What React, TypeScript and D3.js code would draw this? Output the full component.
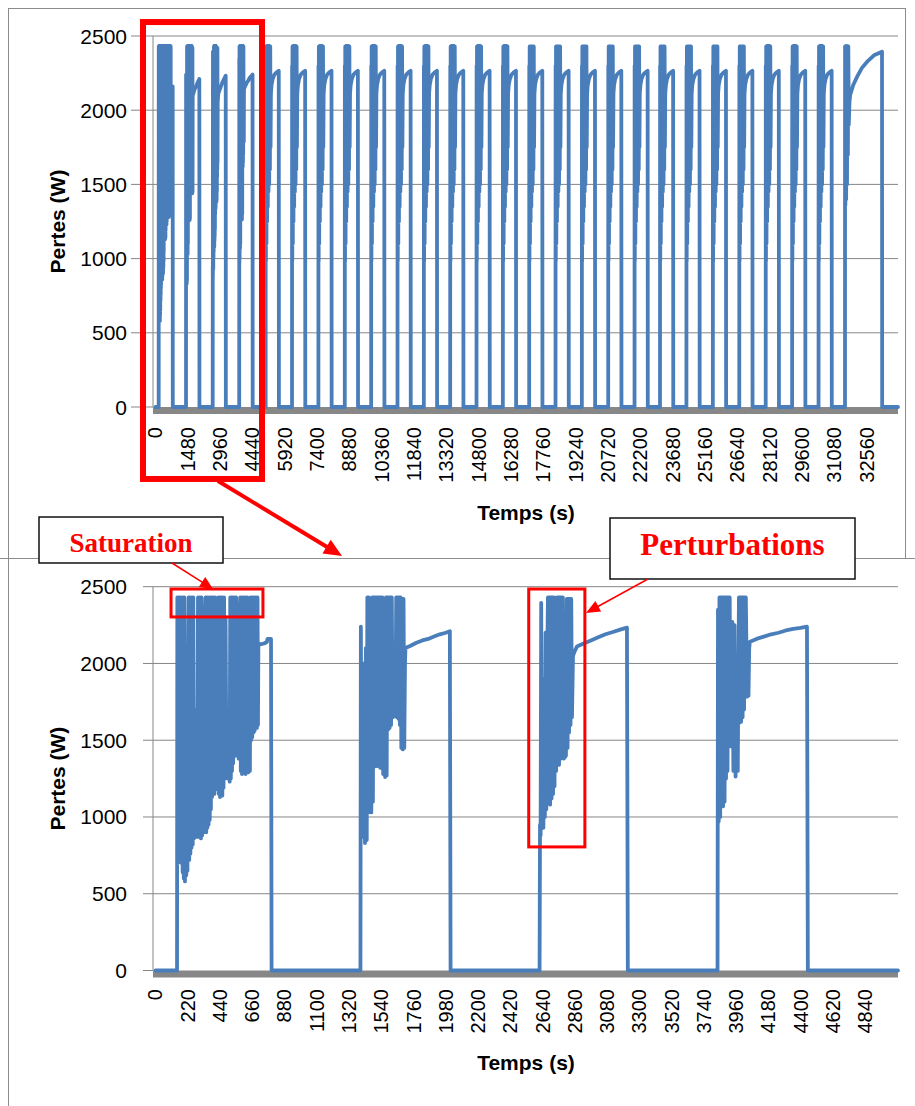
import * as d3 from "d3";

type Pt = [number, number];

const Y_TICKS = [0, 500, 1000, 1500, 2000, 2500];
const FULL_TICKS = [
  0, 1480, 2960, 4440, 5920, 7400, 8880, 10360, 11840, 13320, 14800, 16280, 17760, 19240, 20720,
  22200, 23680, 25160, 26640, 28120, 29600, 31080, 32560,
];
const ZOOM_TICKS = [
  0, 220, 440, 660, 880, 1100, 1320, 1540, 1760, 1980, 2200, 2420, 2640, 2860, 3080, 3300, 3520,
  3740, 3960, 4180, 4400, 4620, 4840,
];

const CYCLE_1: Pt[] = [
  [147, 0], [149, 2430], [153, 700], [157, 2430], [161, 760], [165, 2430], [169, 820], [173, 2430],
  [177, 700], [181, 2430], [185, 640], [189, 2430], [193, 600], [197, 2430], [201, 580], [206, 1950],
  [210, 620], [214, 2000], [218, 650], [222, 1900], [226, 2430], [230, 720], [234, 2430], [238, 760],
  [242, 2430], [246, 800], [250, 2430], [254, 820], [258, 2430], [262, 860], [266, 1700], [272, 880],
  [278, 1650], [284, 870], [290, 2430], [294, 880], [298, 2430], [302, 870], [306, 2430], [310, 860],
  [314, 2430], [318, 880], [324, 2250], [330, 900], [336, 2250], [342, 2430], [346, 900], [350, 2430],
  [354, 930], [358, 2430], [362, 950], [366, 2430], [370, 980], [374, 2430], [378, 1050], [382, 2430],
  [386, 1130], [390, 2430], [394, 1190], [398, 2430], [402, 1150], [406, 2430], [410, 1200], [416, 2250],
  [420, 1180], [424, 2300], [428, 2430], [432, 1150], [436, 2430], [440, 1130], [444, 2430], [448, 1200],
  [452, 2430], [456, 1140], [460, 2430], [464, 1190], [468, 2430], [472, 1250], [478, 2300], [484, 1300],
  [490, 1490], [496, 1250], [502, 1480], [506, 1230], [510, 2430], [514, 1250], [518, 2430], [522, 1300],
  [526, 2430], [530, 1350], [534, 2430], [538, 1420], [542, 2430], [546, 1400], [550, 2430], [556, 1420],
  [562, 2300], [567, 1380], [572, 2300], [578, 2430], [582, 1300], [586, 2430], [590, 1280], [594, 2430],
  [598, 1300], [602, 2430], [606, 1290], [610, 2430], [614, 1280], [618, 2430], [622, 1300], [626, 2430],
  [632, 1290], [638, 2200], [644, 1300], [648, 2430], [652, 1500], [656, 2430], [660, 1520], [664, 2430],
  [668, 1550], [672, 2430], [676, 1560], [680, 2430], [684, 1580], [688, 2430], [692, 1580], [696, 2430],
  [699, 1600], [702, 2130], [720, 2125], [740, 2130], [760, 2140], [764, 2160], [788, 2160], [792, 0],
];

const CYCLE_2: Pt[] = [
  [1398, 0], [1401, 2240], [1406, 940], [1412, 1800], [1417, 870], [1423, 2000], [1429, 830],
  [1435, 2100], [1441, 850], [1445, 2430], [1450, 1030], [1455, 2430], [1460, 1040], [1466, 1940],
  [1472, 1030], [1478, 2430], [1483, 1100], [1488, 2430], [1493, 1350], [1498, 2430], [1503, 1330],
  [1508, 2430], [1513, 1340], [1518, 2430], [1523, 1330], [1528, 2430], [1533, 1320], [1538, 2430],
  [1543, 1330], [1548, 2430], [1553, 1280], [1560, 2300], [1566, 1260], [1572, 2430], [1577, 1270],
  [1582, 2430], [1587, 1570], [1592, 2430], [1597, 1580], [1602, 2430], [1607, 1600], [1612, 2430],
  [1617, 1650], [1637, 1660], [1642, 2430], [1647, 1650], [1652, 2430], [1657, 1640], [1662, 2430],
  [1667, 1600], [1672, 2430], [1677, 1450], [1682, 2420], [1687, 1440], [1692, 2420], [1697, 1450],
  [1702, 2000], [1705, 2100], [1740, 2115], [1780, 2135], [1820, 2150], [1860, 2160], [1900, 2175],
  [1940, 2190], [1980, 2200], [2008, 2210], [2013, 0],
];

const CYCLE_3: Pt[] = [
  [2620, 0], [2623, 950], [2627, 880], [2631, 2395], [2636, 960], [2641, 1500], [2646, 930],
  [2651, 1900], [2656, 1000], [2661, 2200], [2666, 1050], [2672, 2000], [2677, 2430], [2682, 1100],
  [2687, 2430], [2692, 1080], [2697, 2430], [2702, 1120], [2707, 2430], [2712, 1150], [2717, 2430],
  [2722, 1200], [2727, 2400], [2733, 1300], [2738, 2430], [2743, 1350], [2748, 2430], [2753, 1340],
  [2758, 2430], [2763, 1380], [2768, 2430], [2773, 1400], [2779, 2430], [2785, 1380], [2800, 1400],
  [2806, 2420], [2811, 1450], [2816, 2420], [2821, 1550], [2826, 2420], [2831, 1600], [2836, 2420],
  [2841, 1650], [2848, 2050], [2860, 2080], [2875, 2110], [2920, 2130], [2970, 2150], [3020, 2170],
  [3070, 2190], [3120, 2205], [3170, 2220], [3216, 2233], [3222, 0],
];

const CYCLE_4: Pt[] = [
  [3834, 0], [3837, 2350], [3842, 970], [3847, 2430], [3852, 1000], [3857, 2430], [3862, 1068],
  [3867, 2430], [3872, 1070], [3877, 2430], [3882, 1100], [3887, 2430], [3892, 1250], [3897, 2430],
  [3902, 1300], [3907, 2430], [3912, 1460], [3917, 2430], [3922, 1460], [3935, 2270], [3942, 1300],
  [3950, 2250], [3957, 1263], [3965, 2000], [3972, 1300], [3980, 2430], [3985, 1615], [3990, 2430],
  [3995, 1620], [4000, 2430], [4005, 1650], [4010, 2430], [4015, 1700], [4020, 2430], [4027, 2430],
  [4035, 1784], [4045, 1790], [4050, 2100], [4055, 2142], [4100, 2160], [4150, 2175], [4200, 2190],
  [4250, 2200], [4300, 2215], [4350, 2225], [4400, 2232], [4444, 2240], [4450, 0],
];

// later cycles of the full run (upper chart): start times and the common cycle profile
const LATER_STARTS = [
  5045, 6252, 7460, 8668, 9876, 11082, 12288, 13494, 14700, 15906, 17112, 18318, 19524, 20730,
  21936, 23102, 24312, 25522, 26732, 27942, 29152, 30362,
];
const CYCLE_SHAPE: Pt[] = [
  [0, 0], [4, 2300], [12, 980], [22, 2430], [36, 1100], [50, 2430], [66, 1250], [82, 2430],
  [98, 1350], [114, 2430], [130, 1450], [146, 2430], [162, 1500], [178, 2430], [194, 1600],
  [210, 2430], [224, 1750], [240, 2110], [270, 2170], [320, 2210], [400, 2240], [500, 2255],
  [600, 2265], [607, 0],
];
const LAST_CYCLE: Pt[] = [
  [31573, 0], [31576, 2430], [31590, 1360], [31605, 2430], [31625, 1400], [31645, 2430],
  [31665, 1500], [31685, 2430], [31705, 1700], [31725, 2430], [31745, 1900], [31780, 2060],
  [31810, 2102], [31950, 2170], [32130, 2226], [32350, 2285], [32588, 2327], [32900, 2370],
  [33268, 2394], [33275, 0],
];

const laterCycles: Pt[] = LATER_STARTS.flatMap((s) =>
  CYCLE_SHAPE.map(([dt, p]) => [s + dt, p] as Pt),
);
const FULL_SERIES: Pt[] = [
  [0, 0], ...CYCLE_1, ...CYCLE_2, ...CYCLE_3, ...CYCLE_4, ...laterCycles, ...LAST_CYCLE, [34000, 0],
];
const ZOOM_SERIES: Pt[] = [[0, 0], ...CYCLE_1, ...CYCLE_2, ...CYCLE_3, ...CYCLE_4, [5065, 0]];

const BLUE = "#4a7ebb";
const GRID = "#868686";
const RED = "#ff0000";
const SANS = "'Liberation Sans', Arial, sans-serif";
const SERIF = "'Liberation Serif', 'Times New Roman', serif";
const LEFT = 153;
const RIGHT = 898;

type Scales = { x: d3.ScaleLinear<number, number>; y: d3.ScaleLinear<number, number> };

function Arrow({ x1, y1, x2, y2, width, len, half }: {
  x1: number; y1: number; x2: number; y2: number; width: number; len: number; half: number;
}) {
  const l = Math.hypot(x2 - x1, y2 - y1);
  const ux = (x2 - x1) / l;
  const uy = (y2 - y1) / l;
  const bx = x2 - ux * len;
  const by = y2 - uy * len;
  const pts = `${x2},${y2} ${bx - uy * half},${by + ux * half} ${bx + uy * half},${by - ux * half}`;
  return (
    <g>
      <line x1={x1} y1={y1} x2={bx + ux * 2} y2={by + uy * 2} stroke={RED} strokeWidth={width} />
      <polygon points={pts} fill={RED} />
    </g>
  );
}

function Panel({ series, domain, ticks, top, zero, tickY, titleY, tickStart, overlay }: {
  series: Pt[];
  domain: [number, number];
  ticks: number[];
  top: number;
  zero: number;
  tickY: number;
  titleY: number;
  tickStart: number;
  overlay: (s: Scales) => JSX.Element;
}) {
  const x = d3.scaleLinear().domain(domain).range([LEFT, RIGHT]);
  const y = d3.scaleLinear().domain([0, 2500]).range([zero, top]);
  const path = d3.line<Pt>().x((d) => x(d[0])).y((d) => y(d[1]))(series) ?? "";

  return (
    <g>
      {Y_TICKS.map((v) => (
        <line key={v} x1={tickStart} x2={v === 0 ? LEFT : RIGHT} y1={y(v)} y2={y(v)} stroke={GRID} />
      ))}
      <line x1={LEFT} x2={LEFT} y1={top} y2={zero} stroke={GRID} />
      <rect x={LEFT} y={zero} width={RIGHT - LEFT} height={7} fill="#878787" />
      {Y_TICKS.map((v) => (
        <text key={v} x={127} y={y(v)} textAnchor="end" dominantBaseline="central"
          fontSize={21} fontFamily={SANS}>{v}</text>
      ))}
      {ticks.map((v) => (
        <text key={v} transform={`translate(${x(v)},${tickY}) rotate(-90)`} textAnchor="end"
          dominantBaseline="central" fontSize={20} fontFamily={SANS}>{v}</text>
      ))}
      <path d={path} fill="none" stroke={BLUE} strokeWidth={3.8} strokeLinejoin="round"
        strokeLinecap="round" />
      <text x={526} y={titleY} textAnchor="middle" fontWeight="bold" fontSize={21}
        fontFamily={SANS}>Temps (s)</text>
      <text transform={`translate(57,${(top + zero) / 2}) rotate(-90)`} textAnchor="middle"
        dominantBaseline="central" fontWeight="bold" fontSize={21} fontFamily={SANS}>Pertes (W)</text>
      {overlay({ x, y })}
    </g>
  );
}

function Callout({ x, y, w, h, label, size, baseline }: {
  x: number; y: number; w: number; h: number; label: string; size: number; baseline: number;
}) {
  return (
    <g>
      <rect x={x} y={y} width={w} height={h} fill="#fff" stroke="#111" strokeWidth={1.5} />
      <text x={x + w / 2} y={baseline} textAnchor="middle" fill={RED} fontWeight="bold"
        fontSize={size} fontFamily={SERIF}>{label}</text>
    </g>
  );
}

export default function App() {
  return (
    <div style={{ position: "absolute", left: 0, top: 0, width: 915, height: 1106, overflow: "hidden", background: "#fff" }}>
      <svg width={915} height={1106} style={{ display: "block" }}>
        <rect x={8.5} y={8.5} width={897} height={550} fill="none" stroke="#8c8c8c" />
        <line x1={0} x2={915} y1={558.5} y2={558.5} stroke="#8c8c8c" />
        <line x1={8.5} x2={8.5} y1={558} y2={1106} stroke="#8c8c8c" />

        <Panel
          series={FULL_SERIES}
          domain={[-114, 34000]}
          ticks={FULL_TICKS}
          top={36}
          zero={407}
          tickY={427}
          titleY={520}
          tickStart={131}
          overlay={({ x, y }) => (
            <rect x={x(-572)} y={y(2594)} width={x(4877) - x(-572)} height={y(-485) - y(2594)}
              fill="none" stroke={RED} strokeWidth={6} />
          )}
        />

        <Panel
          series={ZOOM_SERIES}
          domain={[-17, 5065]}
          ticks={ZOOM_TICKS}
          top={586.7}
          zero={970.5}
          tickY={989}
          titleY={1070}
          tickStart={143}
          overlay={({ x, y }) => (
            <g>
              <rect x={x(106)} y={y(2485)} width={x(733) - x(106)} height={y(2303) - y(2485)}
                fill="none" stroke={RED} strokeWidth={3} />
              <rect x={x(2546)} y={y(2485)} width={x(2929) - x(2546)} height={y(805) - y(2485)}
                fill="none" stroke={RED} strokeWidth={3} />
            </g>
          )}
        />

        <Arrow x1={218} y1={481} x2={342} y2={556} width={4} len={18} half={8} />
        <Callout x={39} y={517} w={184} h={46} label="Saturation" size={27} baseline={552} />
        <Callout x={610} y={518} w={245} h={61} label="Perturbations" size={31} baseline={555} />
        <Arrow x1={172} y1={563} x2={213} y2={589} width={1.5} len={13} half={6} />
        <Arrow x1={648} y1={579} x2={586} y2={613} width={1.5} len={14} half={6} />
      </svg>
    </div>
  );
}
